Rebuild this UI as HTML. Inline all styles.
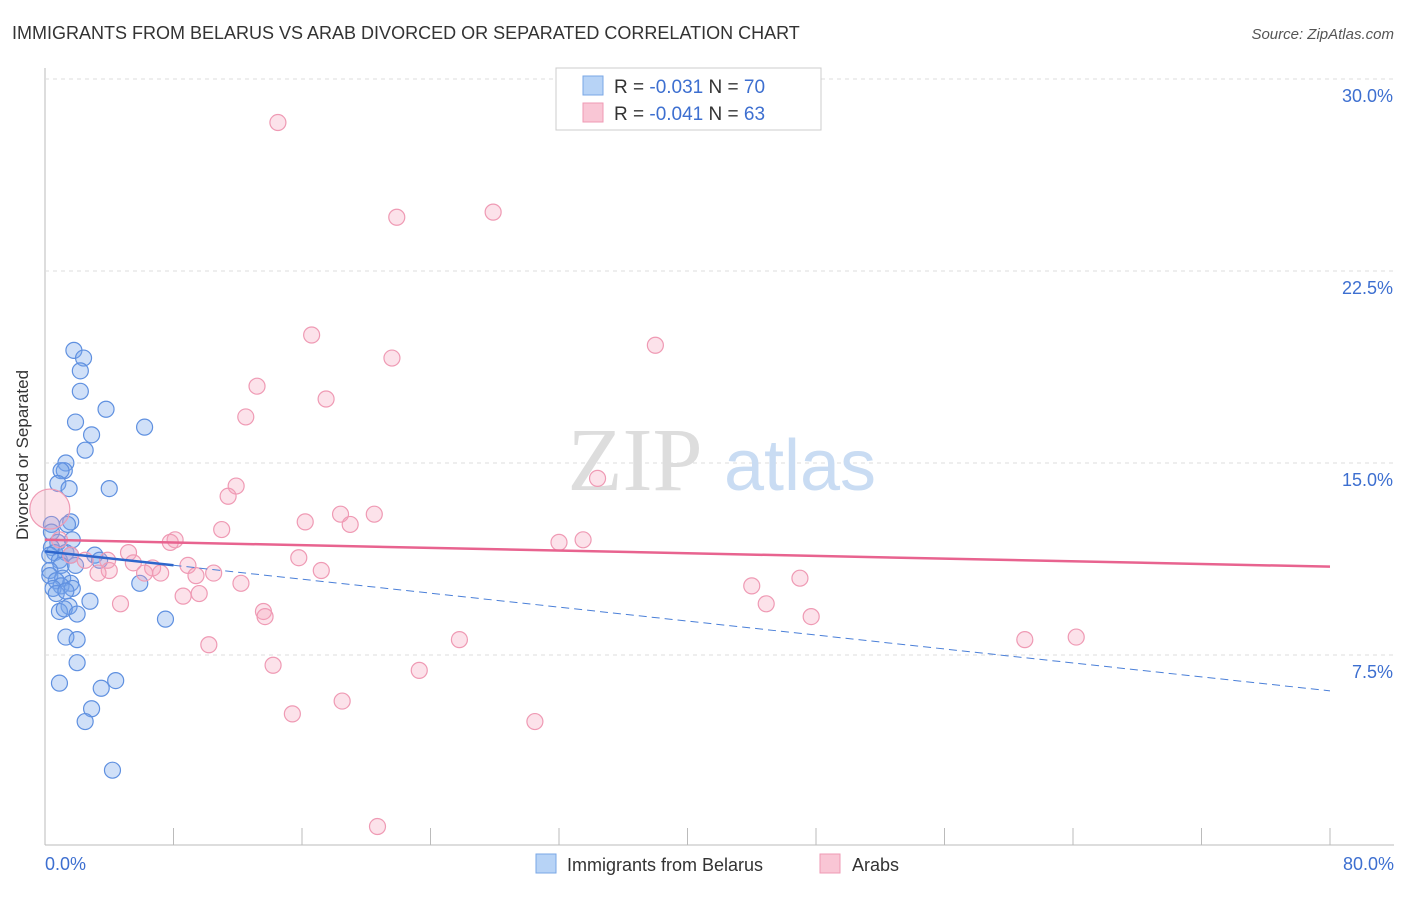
<!DOCTYPE html>
<html><head><meta charset="utf-8"><style>
body{margin:0;background:#fff;font-family:"Liberation Sans",sans-serif}
</style></head><body>
<svg id="chart" width="1406" height="892" xmlns="http://www.w3.org/2000/svg">
<text x="12" y="39" font-size="18" fill="#333">IMMIGRANTS FROM BELARUS VS ARAB DIVORCED OR SEPARATED CORRELATION CHART</text>
<text x="1394" y="39" font-size="15" fill="#555" font-style="italic" text-anchor="end">Source: ZipAtlas.com</text>
<g id="grid"></g>
<text x="635" y="490" font-size="90" fill="#ddd" font-family="Liberation Serif,serif" text-anchor="middle">ZIP</text>
<text x="800" y="490" font-size="72" fill="#c9dcf3" text-anchor="middle">atlas</text>
<g id="points"></g>
<g id="trends"></g>
<text x="28" y="455" font-size="17" fill="#333" text-anchor="middle" transform="rotate(-90 28 455)">Divorced or Separated</text>
<text x="45" y="870" font-size="18" fill="#3d6fd0">0.0%</text>
<text x="1394" y="870" font-size="18" fill="#3d6fd0" text-anchor="end">80.0%</text>
<g>
<rect x="556" y="68" width="265" height="62" fill="#fff" stroke="#ccc"/>
<rect x="583" y="76" width="20" height="19" fill="#b7d3f6" stroke="#7aa7e6"/>
<rect x="583" y="103" width="20" height="19" fill="#f9c6d5" stroke="#ef9ab4"/>
<text x="614" y="93" font-size="19" fill="#333">R = <tspan fill="#3d6fd0">-0.031</tspan>   N = <tspan fill="#3d6fd0">70</tspan></text>
<text x="614" y="120" font-size="19" fill="#333">R = <tspan fill="#3d6fd0">-0.041</tspan>   N = <tspan fill="#3d6fd0">63</tspan></text>
</g>
<g>
<rect x="536" y="854" width="20" height="19" fill="#b7d3f6" stroke="#7aa7e6"/>
<text x="567" y="871" font-size="18" fill="#333">Immigrants from Belarus</text>
<rect x="820" y="854" width="20" height="19" fill="#f9c6d5" stroke="#ef9ab4"/>
<text x="852" y="871" font-size="18" fill="#333">Arabs</text>
</g>
</svg>
<script>
const yTicks=[7.5,15,22.5,30];
const xTicks=[0,8,16,24,32,40,48,56,64,72,80];
const blueX=[1.8,2.4,2.2,2.2,3.8,1.9,2.9,2.5,6.2,1.3,1.2,1.0,0.8,1.5,4.0,1.6,1.4,0.4,0.4,0.8,1.7,0.4,0.6,1.3,0.3,0.9,1.6,3.1,3.4,1.0,1.9,0.3,0.3,1.1,0.7,1.6,1.0,0.5,1.7,0.7,1.3,5.9,2.8,1.5,0.9,1.2,2.0,7.5,1.3,2.0,2.0,0.9,3.5,4.4,2.9,2.5,4.2];
const blueY=[19.4,19.1,18.6,17.8,17.1,16.6,16.1,15.5,16.4,15.0,14.7,14.7,14.2,14.0,14.0,12.7,12.6,12.6,12.3,11.9,12.0,11.7,11.5,11.5,11.4,11.2,11.4,11.4,11.2,11.0,11.0,10.8,10.6,10.5,10.4,10.3,10.2,10.1,10.1,9.9,10.0,10.3,9.6,9.4,9.2,9.3,9.1,8.9,8.2,8.1,7.2,6.4,6.2,6.5,5.4,4.9,3.0];
const pinkX=[14.5,21.9,27.9,16.6,21.6,38.0,13.2,17.5,12.5,34.4,11.9,11.4,18.4,20.5,16.2,19.0,11.0,8.1,7.8,32.0,33.5,0.9,5.2,15.8,1.6,3.9,2.5,5.5,8.9,4.0,6.7,7.2,6.2,3.3,17.2,10.5,9.4,47.0,12.2,44.0,9.6,8.6,4.7,13.6,44.9,13.7,47.7,25.8,61.0,64.2,10.2,14.2,23.3,18.5,15.4,30.5,20.7,0.3];
const pinkY=[28.3,24.6,24.8,20.0,19.1,19.6,18.0,17.5,16.8,14.4,14.1,13.7,13.0,13.0,12.7,12.6,12.4,12.0,11.9,11.9,12.0,12.0,11.5,11.3,11.4,11.2,11.2,11.1,11.0,10.8,10.9,10.7,10.7,10.7,10.8,10.7,10.6,10.5,10.3,10.2,9.9,9.8,9.5,9.2,9.5,9.0,9.0,8.1,8.1,8.2,7.9,7.1,6.9,5.7,5.2,4.9,0.8,13.2];
const pinkR=[8,8,8,8,8,8,8,8,8,8,8,8,8,8,8,8,8,8,8,8,8,8,8,8,8,8,8,8,8,8,8,8,8,8,8,8,8,8,8,8,8,8,8,8,8,8,8,8,8,8,8,8,8,8,8,8,8,20];
const pinkTrend=[12.0,10.95];
const blueTrend=[11.55,6.1];
const X=v=>45+v/80*1285, Y=v=>847-v*25.6;
const NS="http://www.w3.org/2000/svg";
function mk(t,a,p){const e=document.createElementNS(NS,t);for(const k in a)e.setAttribute(k,a[k]);p.appendChild(e);return e;}
const g=document.getElementById('grid');
const ax=mk('line',{x1:45,y1:68,x2:45,y2:845,stroke:'#bbb'},g);


const bx=mk('line',{x1:45,y1:845,x2:1394,y2:845,stroke:'#bbb'},g);


yTicks.forEach(t=>{
const l=mk('line',{x1:45,x2:1394,y1:Y(t),y2:Y(t),stroke:'#ddd','stroke-dasharray':'4,4'},g);


const tx=mk('text',{x:1393,y:Y(t)+23,'font-size':18,fill:'#3d6fd0','text-anchor':'end'},g);
tx.textContent=t.toFixed(1)+'%';


});
xTicks.forEach(t=>{
const l=mk('line',{x1:X(t),x2:X(t),y1:828,y2:845,stroke:'#bbb'},g);


});
const p=document.getElementById('points');
blueX.forEach((v,i)=>{
const c=mk('circle',{cx:X(v),cy:Y(blueY[i]),r:8,fill:'rgba(120,165,235,0.35)',stroke:'#5f90e0','stroke-width':1.2},p);


});
pinkX.forEach((v,i)=>{
const c=mk('circle',{cx:X(v),cy:Y(pinkY[i]),r:pinkR[i],fill:'rgba(245,160,185,0.3)',stroke:'#ef9ab4','stroke-width':1.2},p);


});
const tr=document.getElementById('trends');
const pl=mk('line',{x1:X(0),y1:Y(pinkTrend[0]),x2:X(80),y2:Y(pinkTrend[1]),stroke:'#e8638f','stroke-width':2.5},tr);


const by=x=>blueTrend[0]+(blueTrend[1]-blueTrend[0])*x/80;
const bl=mk('line',{x1:X(0),y1:Y(by(0)),x2:X(8),y2:Y(by(8)),stroke:'#2e66cc','stroke-width':2.5},tr);


const bd=mk('line',{x1:X(8),y1:Y(by(8)),x2:X(80),y2:Y(by(80)),stroke:'#4a7fd8','stroke-width':1,'stroke-dasharray':'8,5'},tr);


</script>
</body></html>
